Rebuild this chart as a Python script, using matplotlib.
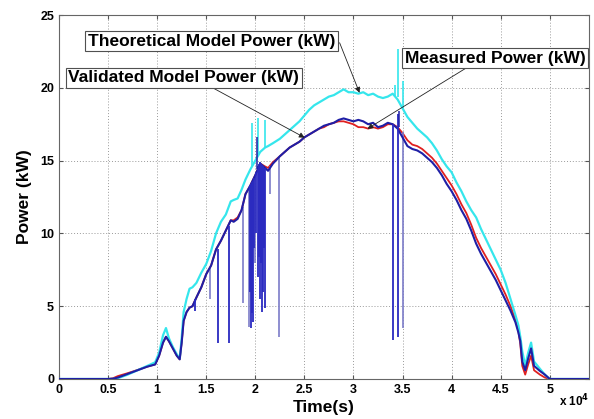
import matplotlib
matplotlib.use("Agg")
import matplotlib.pyplot as plt
import numpy as np

plt.rcParams['font.family'] = ['Liberation Sans', 'DejaVu Sans']
plt.rcParams['font.weight'] = 'bold'

# ---- data (time in s, power in kW) ----
time_s = [0, 5000, 5500, 6000, 7000, 8000, 9000, 9800, 10200, 10600, 10900, 11200, 11600,
          12000, 12300, 12500, 12700, 13000, 13300, 13600, 14000, 14500, 15000, 15500,
          16000, 16500, 17000, 17500, 17800, 18200, 18600, 19000, 19500, 20000, 20500,
          21000, 21300, 21800, 22500, 23000, 23500, 24000, 24500, 25000, 25500, 26000,
          26500, 27000, 27500, 28000, 28500, 29000, 29500, 30000, 30500, 31000, 31500,
          32000, 32500, 33000, 33500, 34000, 34500, 35000, 35500, 36000, 36500, 37000,
          37500, 38000, 38500, 39000, 39500, 40000, 40500, 41000, 41500, 42000, 42500,
          43000, 43500, 44000, 44500, 45000, 45500, 46000, 46500, 46800, 47000, 47200,
          47500, 47800, 48100, 48400, 49000, 49500, 50000, 54000]

theoretical_kw = [0, 0, 0.0, 0.05, 0.3, 0.6, 0.9, 1.15, 1.8, 3.0, 3.5, 2.8, 2.2,
                  1.7, 1.4, 2.8, 4.6, 5.5, 6.2, 6.3, 6.6, 7.3, 7.9, 8.8,
                  10.0, 10.8, 11.3, 12.2, 12.3, 12.4, 13.0, 13.7, 14.4, 15.0, 15.6,
                  15.9, 16.0, 16.2, 16.5, 16.8, 17.1, 17.4, 17.7, 18.1, 18.5, 18.8,
                  19.0, 19.2, 19.4, 19.5, 19.7, 19.9, 19.7, 19.7, 19.6, 19.7, 19.5,
                  19.6, 19.4, 19.3, 19.4, 19.6, 19.2, 18.6, 18.0, 17.6, 17.2, 16.9,
                  16.6, 16.2, 15.7, 15.1, 14.6, 14.2, 13.5, 12.9, 12.2, 11.6, 11.1,
                  10.3, 9.6, 8.9, 8.2, 7.5, 6.6, 5.5, 4.4, 3.7, 2.9, 1.9,
                  0.9, 1.8, 2.5, 1.2, 0.7, 0.3, 0.0, 0]

validated_kw = [0, 0, 0.02, 0.1, 0.35, 0.6, 0.85, 1.0, 1.6, 2.5, 2.9, 2.6, 2.1,
                1.6, 1.35, 2.5, 4.0, 4.6, 4.9, 5.0, 5.6, 6.3, 7.2, 7.8,
                8.9, 9.5, 10.2, 10.9, 10.8, 11.0, 11.6, 12.7, 13.3, 14.0, 14.8,
                14.5, 14.3, 14.8, 15.3, 15.6, 15.9, 16.1, 16.3, 16.6, 16.8, 17.0,
                17.2, 17.4, 17.5, 17.6, 17.8, 17.9, 17.8, 17.7, 17.8, 17.7, 17.5,
                17.6, 17.3, 17.4, 17.6, 17.5, 17.2, 16.6, 16.0, 15.8, 15.7, 15.5,
                15.2, 14.9, 14.5, 14.0, 13.4, 12.9, 12.3, 11.6, 11.0, 10.2, 9.3,
                8.6, 8.0, 7.4, 6.8, 6.1, 5.4, 4.7, 3.9, 3.2, 2.6, 1.2,
                0.6, 1.4, 2.1, 0.9, 0.55, 0.3, 0.0, 0]

measured_kw = [0, 0, 0.05, 0.2, 0.4, 0.62, 0.85, 1.0, 1.6, 2.5, 2.9, 2.6, 2.1,
               1.6, 1.35, 2.5, 4.0, 4.6, 4.9, 5.0, 5.6, 6.3, 7.2, 7.8,
               8.9, 9.5, 10.2, 10.9, 10.9, 11.1, 11.6, 12.7, 13.3, 14.0, 14.8,
               14.6, 14.5, 14.9, 15.3, 15.6, 15.9, 16.1, 16.3, 16.6, 16.8, 17.0,
               17.2, 17.3, 17.5, 17.6, 17.7, 17.7, 17.6, 17.5, 17.3, 17.3, 17.2,
               17.3, 17.2, 17.3, 17.5, 17.5, 17.3, 16.9, 16.4, 16.1, 16.0, 15.8,
               15.5, 15.2, 14.8, 14.3, 13.8, 13.3, 12.7, 12.0, 11.4, 10.6, 9.7,
               9.0, 8.4, 7.8, 7.2, 6.5, 5.8, 5.0, 4.1, 3.3, 2.4, 0.9,
               0.3, 1.0, 1.6, 0.6, 0.3, 0.1, 0.0, 0]

# downward dips of the validated model (time, top, bottom)
dip_dark_t = [13900, 16200, 17300, 19500, 19600, 19700, 19800, 19900, 20100, 20300,
              20400, 20500, 20600, 20700, 20800, 20900, 21000, 34000, 34500]
dip_dark_top = [5.5, 8.9, 10.5, 13.3, 13.4, 13.5, 13.6, 13.8, 14.2, 14.6,
                14.8, 14.9, 14.8, 14.7, 14.6, 14.5, 14.5, 17.5, 18.2]
dip_dark_bottom = [4.7, 2.5, 2.5, 6.0, 3.5, 4.5, 3.9, 9.0, 10.0, 7.0,
                   8.4, 5.5, 8.0, 4.6, 6.0, 9.0, 4.9, 2.7, 2.9]
dip_light_t = [15400, 18700, 19400, 20000, 21500, 22400, 35000]
dip_light_top = [7.7, 11.8, 13.2, 14.0, 14.6, 15.3, 17.0]
dip_light_bottom = [5.5, 5.2, 3.6, 8.0, 12.7, 2.9, 3.5]

# upward spikes
spike_cyan_t = [19700, 20300, 21000, 34200, 34500, 35000]
spike_cyan_bottom = [14.6, 15.4, 15.9, 19.4, 19.4, 18.6]
spike_cyan_top = [17.6, 17.9, 17.8, 20.2, 22.7, 20.5]
spike_blue_t = [20200, 34600]
spike_blue_bottom = [14.4, 17.3]
spike_blue_top = [16.6, 18.4]

xtick_vals = [0, 5000, 10000, 15000, 20000, 25000, 30000, 35000, 40000, 45000, 50000]
xtick_labels = ['0', '0.5', '1', '1.5', '2', '2.5', '3', '3.5', '4', '4.5', '5']
ytick_vals = [0, 5, 10, 15, 20, 25]

CYAN = '#35e6ec'
NAVY = '#1f1fa6'
LIGHT = '#7c7cc8'
RED = '#e02020'

fig = plt.figure(figsize=(5.94, 4.19), dpi=100)
ax = fig.add_axes([0.0993, 0.0955, 0.8923, 0.8685])

ax.plot(time_s, measured_kw, color=RED, lw=1.3, zorder=2)
ax.plot(time_s, theoretical_kw, color=CYAN, lw=1.6, zorder=3)
ax.vlines(spike_cyan_t, spike_cyan_bottom, spike_cyan_top, color=CYAN, lw=1.2, zorder=3)
ax.vlines(dip_light_t, dip_light_bottom, dip_light_top, color=LIGHT, lw=1.2, zorder=4)
ax.plot(time_s, validated_kw, color=NAVY, lw=1.5, zorder=5)
ax.vlines(dip_dark_t, dip_dark_bottom, dip_dark_top, color='#2a2ac0', lw=1.3, zorder=5)
ax.vlines(spike_blue_t, spike_blue_bottom, spike_blue_top, color=NAVY, lw=1.1, zorder=5)

ax.set_xlim(0, 54000)
ax.set_ylim(0, 25)
ax.set_xticks(xtick_vals)
ax.set_xticklabels(xtick_labels)
ax.set_yticks(ytick_vals)
ax.tick_params(direction='in', top=True, right=True, labelsize=9, length=3, color='#555555')
for lab in ax.get_xticklabels() + ax.get_yticklabels():
    lab.set_fontweight('bold')
ax.grid(True, linestyle=(0, (1, 2)), color='#9a9a9a', lw=0.7)
for s in ax.spines.values():
    s.set_color('#666666')
    s.set_linewidth(0.8)

ax.set_xlabel('Time(s)', fontsize=12.5, fontweight='bold', labelpad=3)
ax.set_ylabel('Power (kW)', fontsize=12.5, fontweight='bold', labelpad=6)
fig.text(0.992, 0.022, r'x 10$^4$', fontsize=8.5, fontweight='bold', ha='right', va='bottom')

box = dict(boxstyle='square,pad=0.15', facecolor='white', edgecolor='#505050', lw=0.8)
arrow = dict(arrowstyle='-|>', color='#222222', lw=0.6, mutation_scale=8, shrinkA=0, shrinkB=0)

ax.text(15560, 23.2, 'Theoretical Model Power (kW)', fontsize=12.5, fontweight='bold',
        ha='center', va='center', bbox=box, zorder=10)
ax.text(12720, 20.7, 'Validated Model Power (kW)', fontsize=12.5, fontweight='bold',
        ha='center', va='center', bbox=box, zorder=10)
ax.text(44450, 22.05, 'Measured Power (kW)', fontsize=12.5, fontweight='bold',
        ha='center', va='center', bbox=box, zorder=10)

ax.annotate('', xy=(30620, 19.66), xytext=(28590, 23.1), arrowprops=arrow, zorder=9)
ax.annotate('', xy=(25030, 16.58), xytext=(15670, 20.0), arrowprops=arrow, zorder=9)
ax.annotate('', xy=(31430, 17.19), xytext=(41500, 21.37), arrowprops=arrow, zorder=9)

fig.savefig('out.png', dpi=100)
